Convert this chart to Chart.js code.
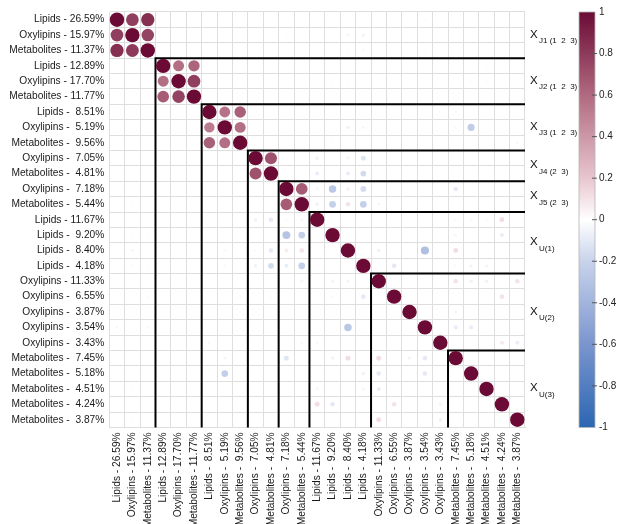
<!DOCTYPE html>
<html>
<head>
<meta charset="utf-8">
<script src="https://cdn.jsdelivr.net/npm/chart.js@4.4.1/dist/chart.umd.min.js"></script>
<style>
  html, body { margin: 0; padding: 0; background: #fff; }
  #wrap { width: 620px; height: 524px; }
</style>
</head>
<body>
<div id="wrap"><canvas id="corr" width="620" height="524"></canvas></div>
<script>
// variables (rows and columns share the same order)
const varLabels = [
  "Lipids - 26.59%", "Oxylipins - 15.97%", "Metabolites - 11.37%",
  "Lipids - 12.89%", "Oxylipins - 17.70%", "Metabolites - 11.77%",
  "Lipids -  8.51%", "Oxylipins -  5.19%", "Metabolites -  9.56%",
  "Oxylipins -  7.05%", "Metabolites -  4.81%",
  "Oxylipins -  7.18%", "Metabolites -  5.44%",
  "Lipids - 11.67%", "Lipids -  9.20%", "Lipids -  8.40%", "Lipids -  4.18%",
  "Oxylipins - 11.33%", "Oxylipins -  6.55%", "Oxylipins -  3.87%", "Oxylipins -  3.54%", "Oxylipins -  3.43%",
  "Metabolites -  7.45%", "Metabolites -  5.18%", "Metabolites -  4.51%", "Metabolites -  4.24%", "Metabolites -  3.87%"
];

// blocks: first index, end index (exclusive), label on the right
const blockStarts = [0, 3, 6, 9, 11, 13, 17, 22];
const blockEnds   = [3, 6, 9, 11, 13, 17, 22, 27];
const blockSubs   = ["J1 (1  2  3)", "J2 (1  2  3)", "J3 (1  2  3)", "J4 (2  3)", "J5 (2  3)", "U(1)", "U(2)", "U(3)"];

// diagonal
const diagValues = [1,1,1,1,1,1,1,1,1,1,1,1,1,1,1,1,1,1,1,1,1,1,1,1,1,1,1];

// inside the joint blocks: [row, col, r]
const blockCorr = [
  [0,1,0.78],[0,2,0.85],[1,0,0.78],[1,2,0.76],[2,0,0.85],[2,1,0.8],
  [3,4,0.58],[3,5,0.62],[4,3,0.58],[4,5,0.78],[5,3,0.66],[5,4,0.76],
  [6,7,0.56],[6,8,0.64],[7,6,0.52],[7,8,0.58],[8,6,0.64],[8,7,0.58],
  [9,10,0.7],[10,9,0.7],
  [11,12,0.66],[12,11,0.66]
];

// everything else (mostly tiny): [row, col, r]
const crossCorr = [
  [0,13,0.02],[0,18,0.02],[0,20,0.02],[0,26,0.02],
  [1,11,0.02],[1,15,-0.04],[1,16,-0.05],[1,25,0.02],[1,26,0.02],
  [2,15,0.02],[2,16,-0.03],[2,18,0.02],[2,19,0.02],[2,20,0.02],
  [3,12,0.02],[3,24,0.02],[3,25,0.02],
  [4,14,0.02],[4,15,0.02],[4,23,0.02],[4,24,0.02],
  [5,25,0.02],[5,26,0.02],
  [6,15,0.02],[6,20,0.02],[6,21,0.02],[6,22,0.02],
  [7,15,-0.06],[7,16,-0.04],[7,22,-0.03],[7,23,-0.24],
  [8,14,0.02],[8,18,0.02],[8,26,0.03],
  [9,3,0.02],[9,13,-0.06],[9,15,-0.05],[9,16,-0.12],
  [10,13,-0.08],[10,14,-0.02],[10,15,-0.08],[10,16,-0.16],
  [11,13,-0.04],[11,14,-0.27],[11,15,0.06],[11,16,-0.16],[11,22,-0.1],
  [12,1,0.02],[12,3,0.02],[12,4,0.02],[12,13,-0.06],[12,14,-0.22],[12,15,0.1],[12,16,-0.22],[12,17,-0.04],
  [13,4,0.02],[13,9,-0.06],[13,10,-0.1],[13,11,-0.03],[13,12,-0.04],[13,22,0.03],[13,23,0.03],[13,24,0.03],[13,25,0.12],
  [14,1,0.02],[14,2,0.02],[14,11,-0.3],[14,12,-0.22],[14,22,0.04],[14,25,-0.08],
  [15,1,0.04],[15,7,0.03],[15,9,0.03],[15,10,-0.1],[15,11,0.07],[15,12,0.1],[15,17,0.06],[15,20,-0.32],[15,22,0.12],
  [16,1,0.03],[16,2,0.02],[16,7,0.03],[16,9,-0.06],[16,10,-0.16],[16,11,-0.08],[16,12,-0.22],[16,18,-0.1],[16,22,0.03],[16,23,-0.05],[16,24,-0.05],
  [17,5,0.02],[17,12,0.05],[17,14,0.05],[17,15,0.05],[17,22,0.1],[17,23,-0.06],[17,24,-0.06],[17,26,0.1],
  [18,0,0.02],[18,2,0.02],[18,8,0.03],[18,10,0.02],[18,14,-0.03],[18,16,-0.1],[18,25,0.1],
  [19,2,0.02],[19,3,0.02],[19,22,-0.04],
  [20,0,0.03],[20,2,0.03],[20,15,-0.27],[20,22,-0.08],[20,23,-0.08],
  [21,6,0.03],[21,12,0.03],[21,13,0.03],[21,25,0.08],[21,26,-0.08],
  [22,7,-0.04],[22,11,-0.12],[22,14,0.05],[22,15,0.12],[22,17,0.12],[22,19,-0.05],[22,20,-0.1],
  [23,6,0.02],[23,7,-0.22],[23,16,-0.06],[23,17,-0.1],[23,20,-0.1],
  [24,1,0.02],[24,4,0.02],[24,13,0.04],[24,16,-0.04],[24,17,-0.08],
  [25,3,0.02],[25,4,0.02],[25,13,0.12],[25,14,-0.1],[25,18,0.1],[25,21,0.05],
  [26,0,0.02],[26,1,0.02],[26,3,0.02],[26,17,0.12],[26,21,-0.06]
];

// colour bar ticks
const colorbarTicks = [1, 0.8, 0.6, 0.4, 0.2, 0, -0.2, -0.4, -0.6, -0.8, -1];

// ---- styling ----
const FONT = "'Liberation Sans', Arial, Helvetica, sans-serif";
const colorStops = [
  [-1, [44, 102, 178]], [-0.6, [122, 149, 206]], [-0.2, [200, 211, 235]],
  [0, [255, 255, 255]],
  [0.2, [232, 198, 207]], [0.6, [176, 106, 128]], [1, [107, 11, 53]]
];

function corrColor(v) {
  for (let k = 0; k < colorStops.length - 1; k++) {
    const [a, ca] = colorStops[k], [b, cb] = colorStops[k + 1];
    if (v >= a && v <= b) {
      const t = (v - a) / (b - a);
      const c = ca.map((x, n) => Math.round(x + (cb[n] - x) * t));
      return `rgb(${c[0]},${c[1]},${c[2]})`;
    }
  }
  return '#fff';
}

// build bubble points (radius ~ sqrt|r| like corrplot circles)
const points = [];
function addCell(i, j, v) {
  points.push({ x: varLabels[j], y: varLabels[i], r: 7.2 * Math.sqrt(Math.abs(v)), v: v });
}
crossCorr.forEach(([i, j, v]) => addCell(i, j, v));
blockCorr.forEach(([i, j, v]) => addCell(i, j, v));
diagValues.forEach((v, i) => addCell(i, i, v));

// black staircase around the blocks
const blockLines = {
  id: 'blockLines',
  beforeDatasetsDraw(chart) {
    const { ctx, chartArea: a, scales: { x, y } } = chart;
    const cw = x.getPixelForValue(1) - x.getPixelForValue(0);
    const ch = y.getPixelForValue(1) - y.getPixelForValue(0);
    ctx.save();
    ctx.strokeStyle = '#000';
    ctx.lineWidth = 2;
    blockStarts.forEach(s => {
      if (s === 0) return;
      const px = x.getPixelForValue(s) - cw / 2;
      const py = y.getPixelForValue(s) - ch / 2;
      ctx.beginPath();
      ctx.moveTo(px, a.bottom);
      ctx.lineTo(px, py);
      ctx.lineTo(a.right, py);
      ctx.stroke();
    });
    ctx.restore();
  }
};

// block names on the right + colour bar
const sideDecor = {
  id: 'sideDecor',
  afterDraw(chart) {
    const { ctx, scales: { y, cb } } = chart;
    ctx.save();
    ctx.fillStyle = '#111';
    ctx.textAlign = 'left';
    ctx.textBaseline = 'alphabetic';
    blockStarts.forEach((s, b) => {
      const yc = (y.getPixelForValue(s) + y.getPixelForValue(blockEnds[b] - 1)) / 2;
      ctx.font = `11.5px ${FONT}`;
      ctx.fillText('X', 530, yc + 2.5);
      ctx.font = `8px ${FONT}`;
      ctx.fillText(blockSubs[b], 539, yc + 8);
    });

    // colour bar
    const left = 579, w = 16, top = cb.top, bottom = cb.bottom;
    const grad = ctx.createLinearGradient(0, bottom, 0, top);
    colorStops.forEach(([v, c]) => grad.addColorStop((v + 1) / 2, `rgb(${c[0]},${c[1]},${c[2]})`));
    ctx.fillStyle = grad;
    ctx.fillRect(left, top, w, bottom - top);
    ctx.strokeStyle = '#b5b5b5';
    ctx.lineWidth = 0.8;
    ctx.strokeRect(left, top, w, bottom - top);

    ctx.font = `10px ${FONT}`;
    ctx.fillStyle = '#222';
    ctx.textBaseline = 'middle';
    ctx.strokeStyle = '#555';
    ctx.lineWidth = 1;
    colorbarTicks.forEach(v => {
      const py = cb.getPixelForValue(v);
      if (v !== 1 && v !== -1) {
        ctx.beginPath();
        ctx.moveTo(left + w - 3, py);
        ctx.lineTo(left + w + 2, py);
        ctx.stroke();
      }
      ctx.fillText(String(v), left + w + 4, py);
    });
    ctx.restore();
  }
};

new Chart(document.getElementById('corr'), {
  type: 'bubble',
  data: {
    datasets: [{
      data: points,
      backgroundColor: c => corrColor(c.raw ? c.raw.v : 0),
      borderWidth: 0
    }]
  },
  options: {
    responsive: false,
    animation: false,
    events: [],
    layout: { padding: { top: 12, right: 95, left: 0, bottom: 0 } },
    plugins: { legend: { display: false }, tooltip: { enabled: false } },
    scales: {
      x: {
        type: 'category',
        labels: varLabels,
        offset: true,
        grid: { offset: true, color: '#dedede', lineWidth: 1, drawTicks: false },
        border: { color: '#dedede' },
        ticks: {
          autoSkip: false, minRotation: 90, maxRotation: 90, padding: 5,
          color: '#1a1a1a', font: { family: FONT, size: 10.2 }
        },
        afterFit: s => { s.height = 96.6; }
      },
      y: {
        type: 'category',
        labels: varLabels,
        offset: true,
        grid: { offset: true, color: '#dedede', lineWidth: 1, drawTicks: false },
        border: { color: '#dedede' },
        ticks: {
          autoSkip: false, padding: 5,
          color: '#1a1a1a', font: { family: FONT, size: 10.2 }
        },
        afterFit: s => { s.width = 109.3; }
      },
      cb: { type: 'linear', display: false, position: 'right', min: -1, max: 1 }
    }
  },
  plugins: [blockLines, sideDecor]
});
</script>
</body>
</html>
